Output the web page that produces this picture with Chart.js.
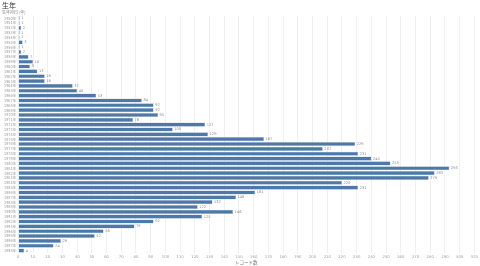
<!DOCTYPE html>
<html>
<head>
<meta charset="utf-8">
<script src="https://cdn.jsdelivr.net/npm/chart.js@4/dist/chart.umd.min.js"></script>
<style>
  html, body { margin: 0; padding: 0; background: #fff; }
  #box { width: 480px; height: 266px; }
</style>
</head>
<body>
<div id="box"><canvas id="birth-chart" width="480" height="266"></canvas></div>
<script>
const years = [
  '1950年', '1951年', '1952年', '1953年', '1954年', '1955年', '1956年', '1957年', '1958年', '1959年',
  '1960年', '1961年', '1962年', '1963年', '1964年', '1965年', '1966年', '1967年', '1968年', '1969年',
  '1970年', '1971年', '1972年', '1973年', '1974年', '1975年', '1976年', '1977年', '1978年', '1979年',
  '1980年', '1981年', '1982年', '1983年', '1984年', '1985年', '1986年', '1987年', '1988年', '1989年',
  '1990年', '1991年', '1992年', '1993年', '1994年', '1995年', '1996年', '1997年', '1998年'
];
const counts = [
  1, 1, 2, 1, 1, 3, 1, 2, 7, 10,
  8, 13, 18, 18, 37, 40, 53, 84, 92, 92,
  95, 78, 127, 105, 129, 167, 229, 207, 231, 240,
  253, 293, 283, 279, 220, 231, 161, 148, 132, 122,
  146, 125, 92, 79, 58, 52, 29, 24, 4
];
const xMax = 310;
const xStep = 10;

const jp = '"Noto Sans CJK JP", "Noto Sans", sans-serif';

// draw the count next to the end of each bar
const valueLabels = {
  id: 'valueLabels',
  afterDatasetsDraw(chart) {
    const ctx = chart.ctx;
    const meta = chart.getDatasetMeta(0);
    ctx.save();
    ctx.font = '3.6px "DejaVu Sans", sans-serif';
    ctx.fillStyle = '#8a8a8a';
    ctx.textBaseline = 'middle';
    meta.data.forEach((bar, i) => {
      ctx.fillText(String(counts[i]), bar.x + 1.5, bar.y);
    });
    ctx.restore();
  }
};

new Chart(document.getElementById('birth-chart').getContext('2d'), {
  type: 'bar',
  data: {
    labels: years,
    datasets: [{
      data: counts,
      backgroundColor: '#4e79a7',
      borderColor: '#a9c1dd',
      borderWidth: 0.5,
      barPercentage: 0.9,
      categoryPercentage: 0.95
    }]
  },
  options: {
    indexAxis: 'y',
    responsive: false,
    animation: false,
    layout: { padding: { left: 2, right: 0, top: 0, bottom: 0 } },
    plugins: {
      legend: { display: false },
      tooltip: { enabled: false },
      title: {
        display: true,
        text: '生年',
        align: 'start',
        color: '#333',
        font: { family: jp, size: 7, weight: 'normal' },
        padding: { top: 1, bottom: 1 }
      },
      subtitle: {
        display: true,
        text: '生年月日 (年)',
        align: 'start',
        color: '#777',
        font: { family: jp, size: 4 },
        padding: { top: 0, bottom: 0.5 }
      }
    },
    scales: {
      x: {
        min: 0,
        max: xMax,
        grid: { color: '#ececec', lineWidth: 0.8, drawTicks: false },
        border: { display: false },
        ticks: {
          stepSize: xStep,
          autoSkip: false,
          maxRotation: 0,
          padding: 2,
          color: '#a0a0a0',
          font: { family: '"DejaVu Sans", sans-serif', size: 3.8 }
        },
        title: {
          display: true,
          text: 'レコード数',
          color: '#777',
          font: { family: jp, size: 4.5 },
          padding: { top: 1, bottom: 1 }
        },
        afterFit(scale) { scale.height = 13; }
      },
      y: {
        grid: { display: false, drawTicks: false },
        border: { display: false },
        ticks: {
          autoSkip: false,
          padding: 2,
          color: '#9a9a9a',
          font: { family: jp, size: 3.8 }
        },
        afterFit(scale) { scale.width = 16.3; }
      }
    }
  },
  plugins: [valueLabels]
});
</script>
</body>
</html>
